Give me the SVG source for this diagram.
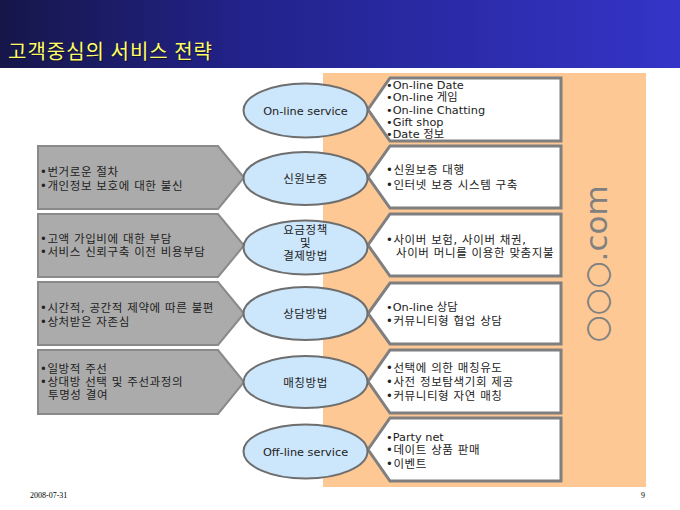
<svg xmlns="http://www.w3.org/2000/svg" width="680" height="510" viewBox="0 0 680 510">
<defs>
<linearGradient id="hdr" x1="0" y1="0" x2="1" y2="0">
<stop offset="0" stop-color="#16164a"/>
<stop offset="0.35" stop-color="#22228a"/>
<stop offset="1" stop-color="#3434c8"/>
</linearGradient>
<style>
.gray{fill:#ababab;stroke:#8a8a8a;stroke-width:2}
.box{fill:#ffffff;stroke:#7f7f7f;stroke-width:3}
.ell{fill:#cce6fb;stroke:#6e6e6e;stroke-width:2}
.t{font-family:"DejaVu Sans","Noto Sans CJK KR",sans-serif;font-size:11.3px;fill:#222}
.k{font-family:"DejaVu Sans","Noto Sans CJK KR",sans-serif;font-size:11.5px;letter-spacing:0.6px;fill:#222}
.c{text-anchor:middle}
.foot{font-family:"Liberation Serif",serif;font-size:8px;fill:#000}
</style>
</defs>
<rect x="0" y="0" width="680" height="510" fill="#ffffff"/>
<rect x="0" y="0" width="680" height="68" fill="url(#hdr)"/>
<text x="9" y="60" font-family="Noto Sans CJK KR,sans-serif" font-size="20" letter-spacing="1" fill="#111133">고객중심의 서비스 전략</text>
<text x="8" y="59" font-family="Noto Sans CJK KR,sans-serif" font-size="20" letter-spacing="1" fill="#ffff66">고객중심의 서비스 전략</text>
<rect x="323" y="73" width="323" height="414" fill="#fdc894"/>
<text transform="translate(607,264) rotate(-90)" text-anchor="middle" font-family="DejaVu Sans,sans-serif" font-size="31" fill="#808080">○○○.com</text>
<g id="connectors"></g>
<g id="problem1">
<polygon class="gray" points="38,146 218,146 244,177.5 218,209 38,209"/>
<text class="k" x="40" y="176">•번거로운 절차</text>
<text class="k" x="40" y="190">•개인정보 보호에 대한 불신</text>
</g>
<g id="problem2">
<polygon class="gray" points="38,214 218,214 244,245.5 218,277 38,277"/>
<text class="k" x="40" y="243">•고액 가입비에 대한 부담</text>
<text class="k" x="40" y="256">•서비스 신뢰구축 이전 비용부담</text>
</g>
<g id="problem3">
<polygon class="gray" points="38,282 218,282 244,313.5 218,345 38,345"/>
<text class="k" x="40" y="312">•시간적, 공간적 제약에 따른 불편</text>
<text class="k" x="40" y="326">•상처받은 자존심</text>
</g>
<g id="problem4">
<polygon class="gray" points="38,350 218,350 244,382 218,414 38,414"/>
<text class="k" x="40" y="373">•일방적 주선</text>
<text class="k" x="40" y="386">•상대방 선택 및 주선과정의</text>
<text class="k" x="48" y="399">투명성 결여</text>
</g>
<g id="detail1">
<polygon class="box" points="390,78 561,78 561,141 390,141 368,109.5"/>
<text class="t" x="386" y="89">•On-line Date</text>
<text class="t" x="386" y="101">•On-line 게임</text>
<text class="t" x="386" y="114">•On-line Chatting</text>
<text class="t" x="386" y="126">•Gift shop</text>
<text class="t" x="386" y="138">•Date 정보</text>
</g>
<g id="detail2">
<polygon class="box" points="390,146 561,146 561,208 390,208 368,177"/>
<text class="k" x="386" y="174">•신원보증 대행</text>
<text class="k" x="386" y="189">•인터넷 보증 시스템 구축</text>
</g>
<g id="detail3">
<polygon class="box" points="390,214 561,214 561,276 390,276 368,245"/>
<text class="k" x="386" y="244">•사이버 보험, 사이버 채권,</text>
<text class="k" x="396" y="257">사이버 머니를 이용한 맞춤지불</text>
</g>
<g id="detail4">
<polygon class="box" points="390,283 561,283 561,344 390,344 368,313.5"/>
<text class="t" x="386" y="311">•On-line 상담</text>
<text class="k" x="386" y="325">•커뮤니티형 협업 상담</text>
</g>
<g id="detail5">
<polygon class="box" points="390,350 561,350 561,413 390,413 368,381.5"/>
<text class="k" x="386" y="372">•선택에 의한 매칭유도</text>
<text class="k" x="386" y="386">•사전 정보탐색기회 제공</text>
<text class="k" x="386" y="400">•커뮤니티형 자연 매칭</text>
</g>
<g id="detail6">
<polygon class="box" points="390,418 561,418 561,481 390,481 368,449.5"/>
<text class="t" x="386" y="441">•Party net</text>
<text class="k" x="386" y="454">•데이트 상품 판매</text>
<text class="k" x="386" y="468">•이벤트</text>
</g>
<g id="online">
<ellipse class="ell" cx="305.5" cy="110.5" rx="62" ry="27"/>
<text class="t c" x="305.5" y="115">On-line service</text>
</g>
<g id="identity">
<ellipse class="ell" cx="305.5" cy="178.5" rx="62" ry="26.5"/>
<text class="k c" x="305.5" y="183">신원보증</text>
</g>
<g id="payment">
<ellipse class="ell" cx="305.5" cy="247.5" rx="62" ry="27"/>
<text class="k c" x="305.5" y="234">요금정책</text>
<text class="k c" x="305.5" y="247">및</text>
<text class="k c" x="305.5" y="260">결제방법</text>
</g>
<g id="consult">
<ellipse class="ell" cx="305.5" cy="313.5" rx="62" ry="26.5"/>
<text class="k c" x="305.5" y="318">상담방법</text>
</g>
<g id="matching">
<ellipse class="ell" cx="305.5" cy="382" rx="62" ry="26"/>
<text class="k c" x="305.5" y="386.5">매칭방법</text>
</g>
<g id="offline">
<ellipse class="ell" cx="305.5" cy="451.5" rx="62" ry="27"/>
<text class="t c" x="305.5" y="456">Off-line service</text>
</g>
<text class="foot" x="30" y="498">2008-07-31</text>
<text class="foot" x="641" y="498">9</text>
</svg>
